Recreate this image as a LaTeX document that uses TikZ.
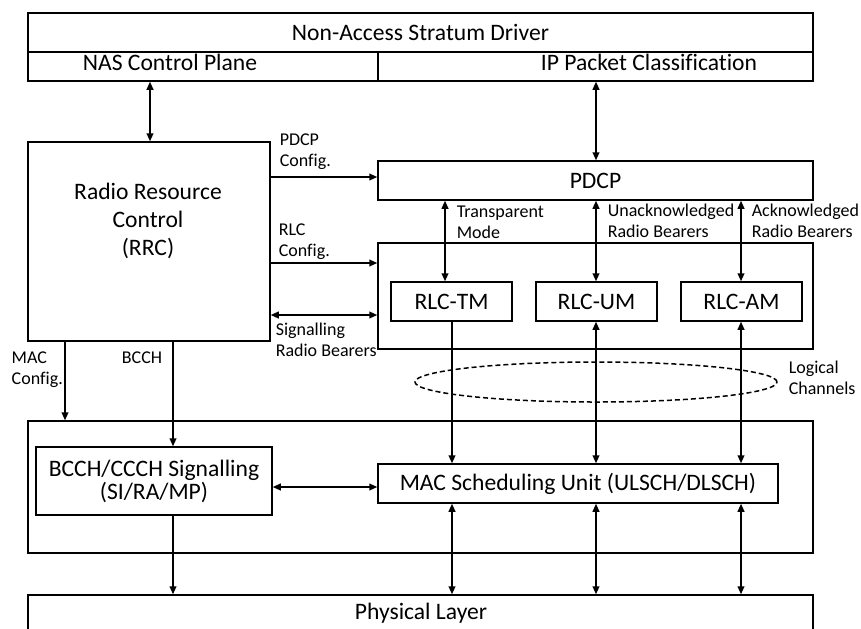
\documentclass[tikz,border=0pt]{standalone}
\usepackage{fontspec}
\setmainfont{Carlito}[Ligatures=CommonOff]
\usetikzlibrary{arrows.meta,shapes.geometric}
\newcommand\bigtxt{\fontsize{11.8pt}{14pt}\selectfont}
\newcommand\smalltxt{\fontsize{9pt}{10.5pt}\selectfont}

\begin{document}
\begin{tikzpicture}[x=0.5pt, y=-0.5pt, line width=0.75pt,
    >={Triangle[length=4pt, width=3.4pt]},
    box/.style={draw, inner sep=0pt, font=\bigtxt},
    big/.style={font=\bigtxt, align=center, inner sep=0pt},
    lbl/.style={font=\smalltxt, align=left, anchor=west, inner sep=0pt}]
    \useasboundingbox (0,0) rectangle (861,628);
    % columns and rows of the links
    \coordinate (cnas) at (150,0); \coordinate (cmac) at (65,0); \coordinate (cbcch) at (173,0);
    \coordinate (ctm) at (445,0); \coordinate (ctm2) at (452,0);
    \coordinate (cum) at (596,0); \coordinate (cam) at (741,0);
    \coordinate (rpdcp) at (0,177); \coordinate (rrlc) at (0,263);
    \coordinate (rsig) at (0,315); \coordinate (rsch) at (0,487);
    % blocks
    \node[box, minimum width=392.5pt, minimum height=19.5pt] (nasdrv) at (420.5,32.5) {Non-Access Stratum Driver};
    \node[box, minimum width=175pt, minimum height=14.5pt] (nascp) at (203,66.5) {};
    \node[box, minimum width=217.5pt, minimum height=14.5pt] (ipc) at (595.5,66.5) {};
    \node[big] (nascptxt) at (170,62.5) {NAS Control Plane};
    \node[big] (ipctxt) at (649,62.5) {IP Packet Classification};
    \node[box, minimum width=121pt, minimum height=99.5pt] (rrc) at (149,241.5) {};
    \node[big] (rrctxt) at (148,220.5) {Radio Resource\\Control\\(RRC)};
    \node[box, minimum width=217.5pt, minimum height=19.5pt] (pdcp) at (595.5,180.5) {PDCP};
    \node[box, minimum width=217.5pt, minimum height=53pt] (rlc) at (595.5,296) {};
    \node[box, minimum width=60.5pt, minimum height=19.5pt] (rlctm) at (451.5,301.5) {RLC-TM};
    \node[box, minimum width=60.5pt, minimum height=19.5pt] (rlcum) at (596.5,301.5) {RLC-UM};
    \node[box, minimum width=60.5pt, minimum height=19.5pt] (rlcam) at (741.5,301.5) {RLC-AM};
    \node[draw, dash pattern=on 2.5pt off 1.5pt, ellipse, inner sep=0pt, minimum width=181pt, minimum height=20pt] (logch) at (596,382) {};
    \node[box, minimum width=392.5pt, minimum height=66pt] (mac) at (420.5,487) {};
    \node[box, align=center, minimum width=118pt, minimum height=34pt, font={\fontsize{11.8pt}{11.5pt}\selectfont}] (bcch) at (154,481) {BCCH/CCCH Signalling\\(SI/RA/MP)};
    \node[box, minimum width=200pt, minimum height=19.5pt] (macsch) at (578,483.5) {MAC Scheduling Unit (ULSCH/DLSCH)};
    \node[box, minimum width=392.5pt, minimum height=18.5pt] (phy) at (420.5,613.5) {};
    \node[big] (phytxt) at (421,613) {Physical Layer};
    % labels
    \node[lbl] (pdcpcfg) at (279,152) {PDCP\\Config.};
    \node[lbl] (rlccfg) at (278,242) {RLC\\Config.};
    \node[lbl] (sigrb) at (275,340) {Signalling\\Radio Bearers};
    \node[lbl] (maccfg) at (11,370) {MAC\\Config.};
    \node[font=\smalltxt, inner sep=0pt] (bcchlbl) at (142,358) {BCCH};
    \node[lbl] (tmlbl) at (456,222) {Transparent\\Mode};
    \node[lbl] (umlbl) at (607,221) {Unacknowledged\\Radio Bearers};
    \node[lbl] (amlbl) at (751,221) {Acknowledged\\Radio Bearers};
    \node[lbl] (logchlbl) at (788,378) {Logical\\Channels};
    % links
    \draw[<->] (nascp.south -| cnas) -- (rrc.north -| cnas);
    \draw[<->] (ipc.south -| cum) -- (pdcp.north -| cum);
    \draw[->] (rrc.east |- rpdcp) -- (pdcp.west |- rpdcp);
    \draw[->] (rrc.east |- rrlc) -- (rlc.west |- rrlc);
    \draw[<->] (rrc.east |- rsig) -- (rlc.west |- rsig);
    \draw[<->] (pdcp.south -| ctm) -- (rlctm.north -| ctm);
    \draw[<->] (pdcp.south -| cum) -- (rlcum.north -| cum);
    \draw[<->] (pdcp.south -| cam) -- (rlcam.north -| cam);
    \draw[->] (rlctm.south -| ctm2) -- (macsch.north -| ctm2);
    \draw[<->] (rlcum.south -| cum) -- (macsch.north -| cum);
    \draw[<->] (rlcam.south -| cam) -- (macsch.north -| cam);
    \draw[->] (rrc.south -| cmac) -- (mac.north -| cmac);
    \draw[->] (rrc.south -| cbcch) -- (bcch.north -| cbcch);
    \draw[<->] (bcch.east |- rsch) -- (macsch.west |- rsch);
    \draw[->] (bcch.south -| cbcch) -- (phy.north -| cbcch);
    \foreach \c in {ctm2,cum,cam}
        \draw[<->] (macsch.south -| \c) -- (phy.north -| \c);
\end{tikzpicture}
\end{document}
